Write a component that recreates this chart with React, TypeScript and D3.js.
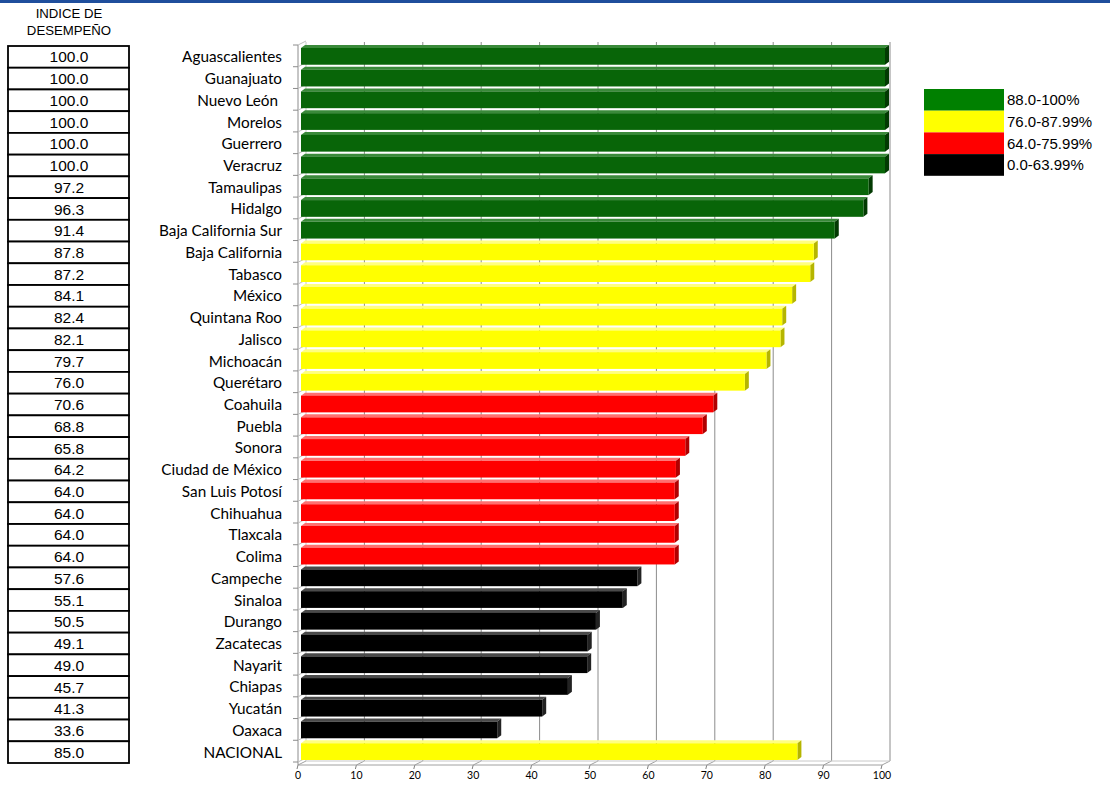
import React from "react";
import * as d3 from "d3";

const categories = [
  "Aguascalientes", "Guanajuato", "Nuevo León ", "Morelos", "Guerrero", "Veracruz",
  "Tamaulipas", "Hidalgo", "Baja California Sur", "Baja California", "Tabasco", "México",
  "Quintana Roo", "Jalisco", "Michoacán", "Querétaro", "Coahuila", "Puebla", "Sonora",
  "Ciudad de México", "San Luis Potosí", "Chihuahua", "Tlaxcala", "Colima", "Campeche",
  "Sinaloa", "Durango", "Zacatecas", "Nayarit", "Chiapas", "Yucatán", "Oaxaca", "NACIONAL",
];
const values = [
  100.0, 100.0, 100.0, 100.0, 100.0, 100.0, 97.2, 96.3, 91.4, 87.8, 87.2, 84.1, 82.4, 82.1,
  79.7, 76.0, 70.6, 68.8, 65.8, 64.2, 64.0, 64.0, 64.0, 64.0, 57.6, 55.1, 50.5, 49.1, 49.0,
  45.7, 41.3, 33.6, 85.0,
];
const xTicks = [0, 10, 20, 30, 40, 50, 60, 70, 80, 90, 100];
const legendLabels = ["88.0-100%", "76.0-87.99%", "64.0-75.99%", "0.0-63.99%"];
const legendThresholds = [88, 76, 64, 0];
const headerLines = ["INDICE DE", "DESEMPEÑO"];

type Pal = { front: string; top: string; side: string; legend: string };
const palettes: Pal[] = [
  { front: "#086508", top: "#3a8a3a", side: "#023a02", legend: "#008000" },
  { front: "#ffff00", top: "#ffff80", side: "#b5b500", legend: "#ffff00" },
  { front: "#ff0000", top: "#ff7070", side: "#b00000", legend: "#ff0000" },
  { front: "#000000", top: "#4a4a4a", side: "#222222", legend: "#000000" },
];
const palFor = (v: number) => palettes[legendThresholds.findIndex((t) => v >= t)];

export default function App() {
  const W = 1110, H = 786;
  const x = d3.scaleLinear().domain([0, 100]).range([298, 882]);
  const y = d3.scaleBand<number>().domain(d3.range(categories.length)).range([45, 762]).paddingInner(0).paddingOuter(0);
  const bw = y.bandwidth();
  const DX = 8, DY = -4; // wall depth
  const floorY = 765;
  const top = 42;

  return (
    <svg width={W} height={H} style={{ position: "absolute", left: 0, top: 0, display: "block", background: "#fff" }}>
      <rect x={0} y={0} width={W} height={3} fill="#1f4e9c" />

      {/* header */}
      {headerLines.map((t, i) => (
        <text key={t} x={69} y={18 + i * 16.5} textAnchor="middle" fontFamily="Liberation Sans, Arial" fontSize={13.2} fill="#000">{t}</text>
      ))}

      {/* table */}
      {values.map((v, i) => (
        <g key={"tb" + i}>
          <rect x={8} y={y(i)! + 1} width={121} height={bw} fill="#fff" stroke="#000" strokeWidth={1.8} />
          <text x={69} y={y(i)! + 1 + bw / 2} dy="0.36em" textAnchor="middle" fontFamily="Liberation Sans, Arial" fontSize={15.5} fill="#000">{v.toFixed(1)}</text>
        </g>
      ))}

      {/* back wall grid lines */}
      {xTicks.map((t) => (
        <g key={"g" + t}>
          <line x1={x(t) + DX} x2={x(t) + DX} y1={top} y2={floorY + DY} stroke={t === 0 ? "#c8c8c8" : "#8c8c8c"} strokeWidth={1} />
          <line x1={x(t) + DX} x2={x(t)} y1={floorY + DY} y2={floorY} stroke="#a0a0a0" strokeWidth={1} />
          <line x1={x(t)} x2={x(t) - 1} y1={floorY} y2={floorY + 4} stroke="#808080" strokeWidth={1} />
          <text x={x(t)} y={779} textAnchor="middle" fontFamily="Lato, Open Sans, sans-serif" fontSize={10.5} fill="#000">{t}</text>
        </g>
      ))}
      <line x1={x(0)} x2={x(100)} y1={floorY} y2={floorY} stroke="#a0a0a0" strokeWidth={1} />
      <line x1={x(0) + DX} x2={x(100) + DX} y1={floorY + DY} y2={floorY + DY} stroke="#c8c8c8" strokeWidth={1} />

      {/* left axis */}
      <line x1={x(0)} x2={x(0)} y1={45} y2={floorY} stroke="#8c8c8c" strokeWidth={1} />
      {d3.range(categories.length + 1).map((i) => {
        const yy = 45 + i * bw;
        return (
          <g key={"lt" + i}>
            <line x1={x(0) - 5} x2={x(0)} y1={yy} y2={yy} stroke="#8c8c8c" strokeWidth={1} />
            <line x1={x(0)} x2={x(0) + DX} y1={yy} y2={yy + DY} stroke="#c0c0c0" strokeWidth={1} />
          </g>
        );
      })}

      {/* bars */}
      {values.map((v, i) => {
        const p = palFor(v);
        const x0 = x(0) + 3;
        const x1 = x(v) + 3;
        const y0 = y(i)! + 3;
        const h = bw - 5;
        const d = 4, e = -3;
        return (
          <g key={"b" + i}>
            <polygon points={`${x0},${y0} ${x0 + d},${y0 + e} ${x1 + d},${y0 + e} ${x1},${y0}`} fill={p.top} />
            <polygon points={`${x1},${y0} ${x1 + d},${y0 + e} ${x1 + d},${y0 + h + e} ${x1},${y0 + h}`} fill={p.side} />
            <rect x={x0} y={y0} width={x1 - x0} height={h} fill={p.front} />
          </g>
        );
      })}

      {/* category labels */}
      {categories.map((c, i) => (
        <text key={"c" + i} x={282} y={y(i)! + bw / 2 + 1} dy="0.36em" textAnchor="end" fontFamily="Lato, Open Sans, sans-serif" fontSize={15.3} fill="#000" style={{ whiteSpace: "pre" }}>{c}</text>
      ))}

      {/* legend */}
      {legendLabels.map((l, i) => (
        <g key={l}>
          <rect x={924} y={89 + i * 21.7} width={80} height={21.7} fill={palettes[i].legend} />
          <text x={1007} y={89 + i * 21.7 + 10.85} dy="0.36em" fontFamily="Liberation Sans, Arial" fontSize={15} fill="#000">{l}</text>
        </g>
      ))}
    </svg>
  );
}
